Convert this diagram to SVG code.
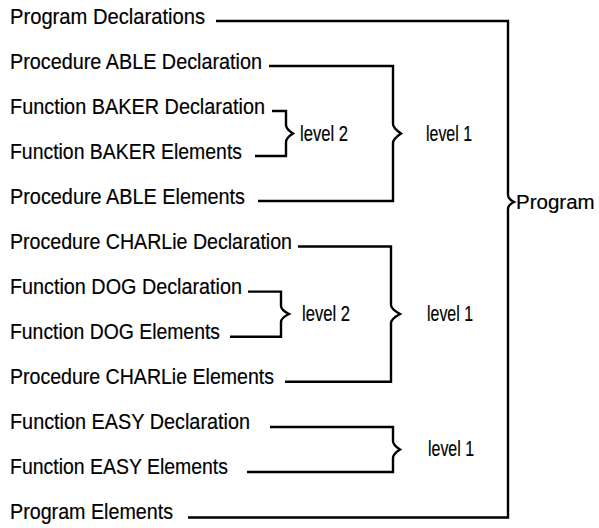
<svg xmlns="http://www.w3.org/2000/svg" width="599" height="528" viewBox="0 0 599 528">
  <style>
    .lbl { font-family: "Liberation Sans Narrow", "Liberation Sans", Arial, sans-serif; font-size: 22px; fill: #000; stroke: #000; stroke-width: 0.2; }
    .lbl.side { font-size: 20.5px; }
    .br { fill: none; stroke: #000; stroke-width: 2.4; stroke-linejoin: miter; stroke-linecap: butt; }
  </style>
  <rect width="599" height="528" fill="#fff"/>

  <!-- block structure labels, one row per declaration / element section -->
  <g id="program-declarations"><text class="lbl" x="10" y="24" textLength="195" lengthAdjust="spacingAndGlyphs">Program Declarations</text></g>
  <g id="able-declaration"><text class="lbl" x="10" y="69" textLength="252" lengthAdjust="spacingAndGlyphs">Procedure ABLE Declaration</text></g>
  <g id="baker-declaration"><text class="lbl" x="10" y="114" textLength="255" lengthAdjust="spacingAndGlyphs">Function BAKER Declaration</text></g>
  <g id="baker-elements"><text class="lbl" x="10" y="159" textLength="232" lengthAdjust="spacingAndGlyphs">Function BAKER Elements</text></g>
  <g id="able-elements"><text class="lbl" x="10" y="204" textLength="235" lengthAdjust="spacingAndGlyphs">Procedure ABLE Elements</text></g>
  <g id="charlie-declaration"><text class="lbl" x="10" y="249" textLength="282" lengthAdjust="spacingAndGlyphs">Procedure CHARLie Declaration</text></g>
  <g id="dog-declaration"><text class="lbl" x="10" y="294" textLength="232" lengthAdjust="spacingAndGlyphs">Function DOG Declaration</text></g>
  <g id="dog-elements"><text class="lbl" x="10" y="339" textLength="210" lengthAdjust="spacingAndGlyphs">Function DOG Elements</text></g>
  <g id="charlie-elements"><text class="lbl" x="10" y="384" textLength="264" lengthAdjust="spacingAndGlyphs">Procedure CHARLie Elements</text></g>
  <g id="easy-declaration"><text class="lbl" x="10" y="429" textLength="240" lengthAdjust="spacingAndGlyphs">Function EASY Declaration</text></g>
  <g id="easy-elements"><text class="lbl" x="10" y="474" textLength="218" lengthAdjust="spacingAndGlyphs">Function EASY Elements</text></g>
  <g id="program-elements"><text class="lbl" x="10" y="519" textLength="163" lengthAdjust="spacingAndGlyphs">Program Elements</text></g>

  <!-- nesting level captions -->
  <g id="baker-level"><text class="lbl" x="300" y="141" textLength="48" lengthAdjust="spacingAndGlyphs">level 2</text></g>
  <g id="able-level"><text class="lbl" x="426" y="141" textLength="46" lengthAdjust="spacingAndGlyphs">level 1</text></g>
  <g id="dog-level"><text class="lbl" x="302" y="321" textLength="48" lengthAdjust="spacingAndGlyphs">level 2</text></g>
  <g id="charlie-level"><text class="lbl" x="427" y="321" textLength="46" lengthAdjust="spacingAndGlyphs">level 1</text></g>
  <g id="easy-level"><text class="lbl" x="428" y="456" textLength="46" lengthAdjust="spacingAndGlyphs">level 1</text></g>
  <g id="program"><text class="lbl side" x="516" y="209">Program</text></g>

  <!-- brace connectors -->
  <g id="connectors">
    <path class="br" d="M216,21 H508 V195 Q508,199 514,202 Q508,205 508,209 V517.5 H188"/>
    <path class="br" d="M269,66 H393 V124 Q393,128 401,133.5 Q393,139 393,143 V201 H258"/>
    <path class="br" d="M272,111 H286 V125 Q286,129 293,133.5 Q286,138 286,142 V156 H255"/>
    <path class="br" d="M298,246.5 H391 V305 Q391,309 400,314 Q391,319 391,323 V381.8 H285"/>
    <path class="br" d="M248,291.6 H281 V306 Q281,310 289,314 Q281,318 281,322 V336.7 H230"/>
    <path class="br" d="M270,427 H393 V441 Q393,445 400,449.5 Q393,454 393,458 V472 H247"/>
  </g>
</svg>
